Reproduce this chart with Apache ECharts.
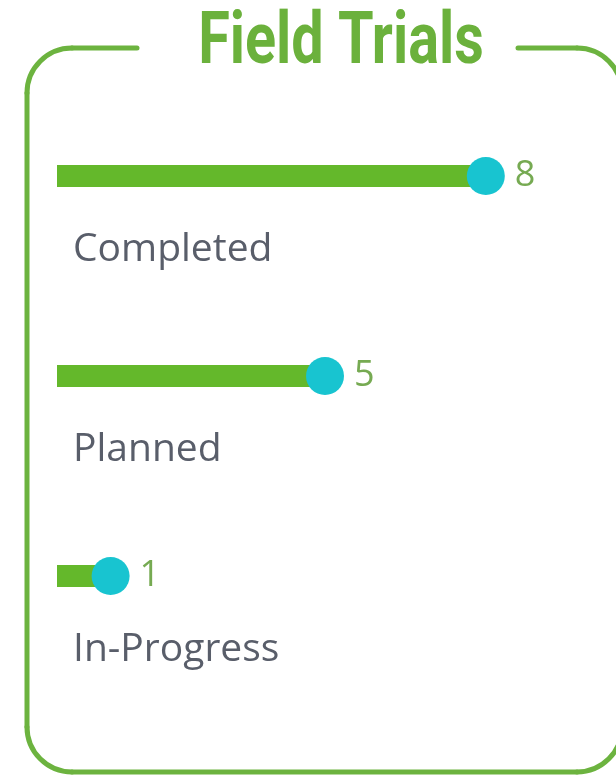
<!DOCTYPE html>
<html>
<head>
<meta charset="utf-8">
<script src="https://cdn.jsdelivr.net/npm/echarts@6/dist/echarts.min.js"></script>
<style>
html,body{margin:0;padding:0;background:#fff;}
#chart{width:616px;height:776px;}
</style>
</head>
<body>
<div id="chart"></div>
<script>
var titleText = 'Field Trials';
var categories = ['Completed', 'Planned', 'In-Progress'];
var values = [8, 5, 1];

var chart = echarts.init(document.getElementById('chart'), null, {renderer: 'canvas'});
var frameColor = '#6cb33f';
var frameStyle = {fill: null, stroke: frameColor, lineWidth: 5, lineCap: 'round'};
var PI = Math.PI;
function ln(x1, y1, x2, y2) {
  return {type: 'line', shape: {x1: x1, y1: y1, x2: x2, y2: y2}, style: frameStyle, silent: true};
}
function arc(cx, cy, s, e) {
  return {type: 'arc', shape: {cx: cx, cy: cy, r: 45, startAngle: s, endAngle: e, clockwise: true}, style: frameStyle, silent: true};
}
var frame = [
  ln(137, 48, 72, 48),
  arc(72, 93, PI, 1.5 * PI),
  ln(27, 93, 27, 727),
  arc(72, 727, 0.5 * PI, PI),
  ln(72, 772, 577, 772),
  arc(577, 727, 0, 0.5 * PI),
  ln(622, 727, 622, 93),
  arc(577, 93, 1.5 * PI, 2 * PI),
  ln(577, 48, 518, 48)
];

var option = {
  backgroundColor: '#ffffff',
  animation: false,
  grid: {left: 57, right: 23, top: 76, bottom: 100, containLabel: false},
  xAxis: {
    type: 'value', min: 0, max: 10, show: false
  },
  yAxis: {
    type: 'category', data: categories, inverse: true, show: false
  },
  graphic: frame.concat([
    {
      type: 'text',
      x: 341, y: 45,
      scaleX: 0.8,
      style: {
        text: titleText,
        fill: '#6bb13c',
        font: 'bold 72px Roboto',
        textAlign: 'center',
        textVerticalAlign: 'middle'
      },
      silent: true
    }
  ]),
  series: [
    {
      type: 'bar',
      data: values,
      barWidth: 22,
      itemStyle: {color: '#64b82b'},
      label: {
        show: true,
        position: 'insideLeft',
        distance: 0,
        offset: [16, 74],
        formatter: '{b}',
        color: '#595e6a',
        fontFamily: 'Open Sans',
        fontSize: 39
      },
      z: 2
    },
    {
      type: 'scatter',
      data: values.map(function (v, i) { return [v, categories[i]]; }),
      symbol: 'circle',
      symbolSize: 38,
      itemStyle: {color: '#18c4d0', opacity: 1},
      label: {
        show: true,
        position: 'right',
        distance: 10,
        formatter: function (p) { return p.value[0]; },
        color: '#76aa52',
        fontFamily: 'Open Sans',
        fontSize: 36
      },
      z: 3
    }
  ]
};
chart.setOption(option);
</script>
</body>
</html>
